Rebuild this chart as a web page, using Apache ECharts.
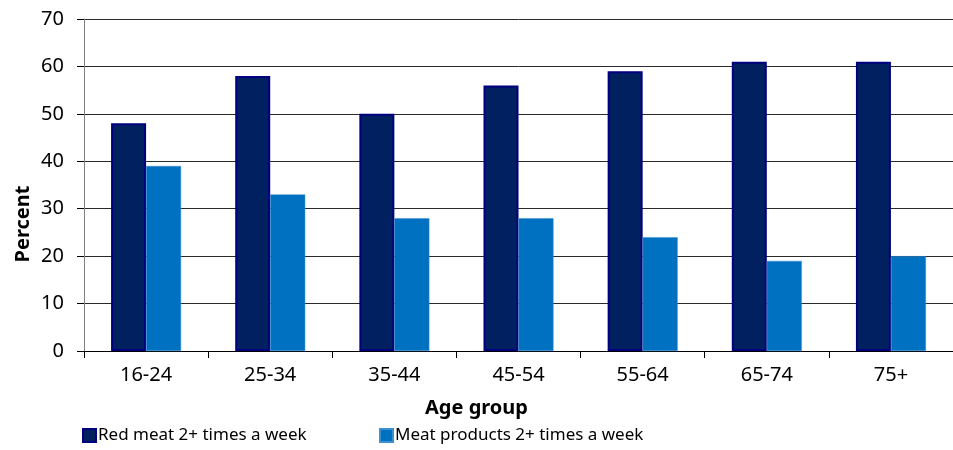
<!DOCTYPE html>
<html>
<head>
<meta charset="utf-8">
<script src="https://cdn.jsdelivr.net/npm/echarts@6/dist/echarts.min.js"></script>
<style>
  html, body { margin: 0; padding: 0; background: #ffffff; }
  #chart { width: 953px; height: 450px; }
</style>
</head>
<body>
<div id="chart"></div>
<script>
// Age groups along the x axis
const ageGroups = ['16-24', '25-34', '35-44', '45-54', '55-64', '65-74', '75+'];

// Share of people (%) eating each item at least twice a week
const redMeat = [48, 58, 50, 56, 59, 61, 61];
const meatProducts = [39, 33, 28, 28, 24, 19, 20];

const seriesNames = ['Red meat 2+ times a week', 'Meat products 2+ times a week'];
const yTicks = { min: 0, max: 70, step: 10 };

const FONT = '"Noto Sans", "Liberation Sans", sans-serif';

const chart = echarts.init(document.getElementById('chart'), null, { renderer: 'canvas' });

chart.setOption({
  animation: false,
  backgroundColor: '#ffffff',
  textStyle: { fontFamily: FONT, color: '#000000' },
  grid: { left: 84, right: 0, top: 19, bottom: 99, containLabel: false },
  legend: [
    {
      data: [seriesNames[0]],
      left: 82, top: 427,
      itemWidth: 13, itemHeight: 13, itemGap: 0,
      icon: 'rect',
      textStyle: { fontFamily: FONT, fontSize: 17, color: '#000000', padding: [0, 0, 0, -3] },
      padding: 0
    },
    {
      data: [seriesNames[1]],
      left: 379, top: 427,
      itemWidth: 13, itemHeight: 13, itemGap: 0,
      icon: 'rect',
      textStyle: { fontFamily: FONT, fontSize: 17, color: '#000000', padding: [0, 0, 0, -3] },
      padding: 0
    }
  ],
  xAxis: {
    type: 'category',
    data: ageGroups,
    boundaryGap: true,
    axisLine: { show: true, lineStyle: { color: '#000000', width: 1 } },
    axisTick: { show: true, length: 7, lineStyle: { color: '#000000' } },
    axisLabel: { fontFamily: FONT, fontSize: 20, color: '#000000', margin: 14 },
    splitLine: { show: false }
  },
  yAxis: {
    type: 'value',
    min: yTicks.min,
    max: yTicks.max,
    interval: yTicks.step,
    axisLine: { show: true, lineStyle: { color: '#808080', width: 1 } },
    axisTick: { show: true, length: 7, inside: false, lineStyle: { color: '#000000' } },
    axisLabel: { fontFamily: FONT, fontSize: 20, color: '#000000', margin: 20 },
    splitLine: { show: true, lineStyle: { color: '#2a2a2a', width: 1 } }
  },
  series: [
    {
      name: seriesNames[0],
      type: 'bar',
      data: redMeat,
      barWidth: 35,
      barGap: '0%',
      itemStyle: { color: '#002060', borderColor: '#000080', borderWidth: 2 }
    },
    {
      name: seriesNames[1],
      type: 'bar',
      data: meatProducts,
      barWidth: 35,
      itemStyle: { color: '#0070C0', borderColor: '#3d8fd0', borderWidth: 0.5 }
    }
  ],
  graphic: [
    {
      type: 'text',
      left: 'center',
      x: 0,
      style: { text: 'Age group', fontFamily: FONT, fontSize: 20, fontWeight: 'bold', fill: '#000000', textAlign: 'center', textVerticalAlign: 'middle' },
      position: [522, 408]
    },
    {
      type: 'text',
      rotation: Math.PI / 2,
      position: [23, 224],
      style: { text: 'Percent', fontFamily: FONT, fontSize: 20, fontWeight: 'bold', fill: '#000000', textAlign: 'center', textVerticalAlign: 'middle' }
    }
  ]
});
</script>
</body>
</html>
